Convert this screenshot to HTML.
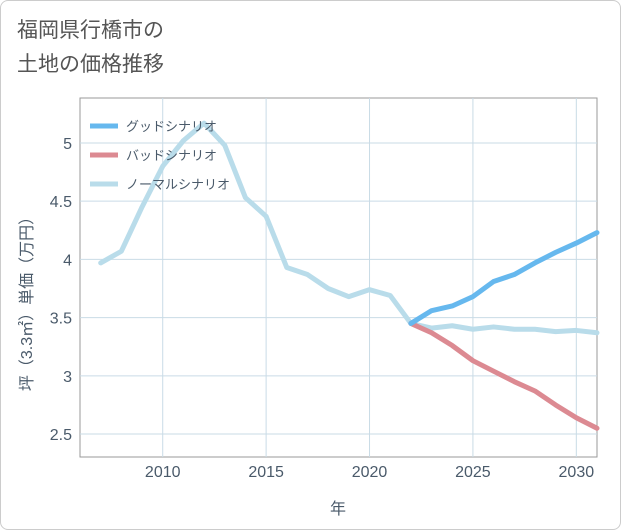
<!DOCTYPE html>
<html><head><meta charset="utf-8"><style>
body{margin:0;background:#fff;font-family:"Liberation Sans","Noto Sans CJK JP",sans-serif}
#card{position:absolute;left:0;top:0;width:619px;height:528px;border:1px solid #ccc;border-radius:8px;background:#fff}
#title{position:absolute;left:17px;top:14px;font-size:21px;line-height:34px;color:#555;font-family:"Liberation Sans","Noto Sans CJK JP",sans-serif}
svg{position:absolute;left:0;top:0}
</style></head><body>
<div id="card"></div>
<div id="title">福岡県行橋市の<br>土地の価格推移</div>
<svg id="chart" width="621" height="530"></svg>
<script>
const years=[2007,2008,2009,2010,2011,2012,2013,2014,2015,2016,2017,2018,2019,2020,2021,2022,2023,2024,2025,2026,2027,2028,2029,2030,2031];
const normal=[3.97,4.07,4.45,4.8,5.02,5.17,4.98,4.53,4.37,3.93,3.87,3.75,3.68,3.74,3.69,3.45,3.41,3.43,3.40,3.42,3.40,3.40,3.38,3.39,3.37];
const futureYears=[2022,2023,2024,2025,2026,2027,2028,2029,2030,2031];
const good=[3.45,3.56,3.60,3.68,3.81,3.87,3.97,4.06,4.14,4.23];
const bad=[3.45,3.37,3.26,3.13,3.04,2.95,2.87,2.75,2.64,2.55];
const xTicks=[2010,2015,2020,2025,2030];
const yTicks=[2.5,3,3.5,4,4.5,5];
const yLabels=["2.5","3","3.5","4","4.5","5"];
const L=80,R=597,T=98,B=457,x0=2006,x1=2031,y0=2.303,y1=5.386;
const X=v=>L+(v-x0)/(x1-x0)*(R-L);
const Y=v=>B-(v-y0)/(y1-y0)*(B-T);
const svg=document.getElementById('chart');
const NS='http://www.w3.org/2000/svg';
function mk(t,a,p){const e=document.createElementNS(NS,t);for(const k in a)e.setAttribute(k,a[k]);(p||svg).appendChild(e);return e;}
const frame=mk('rect',{x:L,y:T,width:R-L,height:B-T,fill:'none',stroke:'#999','stroke-width':1});


xTicks.forEach(t=>{
 const g=mk('line',{x1:X(t),x2:X(t),y1:T,y2:B,stroke:'#c9dbe6','stroke-width':1});
 
 
 const tx=mk('text',{x:X(t),y:477,'text-anchor':'middle','font-size':16,fill:'#4a5a6a'});
 tx.textContent=t;
 
 
});
yTicks.forEach((t,i)=>{
 const g=mk('line',{x1:L,x2:R,y1:Y(t),y2:Y(t),stroke:'#c9dbe6','stroke-width':1});
 
 
 const tx=mk('text',{x:72,y:Y(t)+6,'text-anchor':'end','font-size':16,fill:'#4a5a6a'});
 tx.textContent=yLabels[i];
 
 
});
function line(xs,ys,color,name){
 const p=mk('polyline',{points:xs.map((v,i)=>X(v)+','+Y(ys[i])).join(' '),fill:'none',stroke:color,'stroke-width':5,'stroke-linejoin':'round','stroke-linecap':'round'});
 
 
}
line(years,normal,'#b9dcea','normal-scenario-line');
line(futureYears,bad,'#dc8a92','bad-scenario-line');
line(futureYears,good,'#66b8ee','good-scenario-line');
const leg=[['グッドシナリオ','#66b8ee'],['バッドシナリオ','#dc8a92'],['ノーマルシナリオ','#b9dcea']];
leg.forEach((l,i)=>{
 const y=126+i*29;
 const s=mk('line',{x1:90,x2:118,y1:y,y2:y,stroke:l[1],'stroke-width':5});
 
 
 const tx=mk('text',{x:126,y:y+5,'font-size':13,fill:'#4a5a6a'});
 tx.textContent=l[0];
 
 
});
const xt=mk('text',{x:338,y:514,'text-anchor':'middle','font-size':16,fill:'#4a5a6a'});
xt.textContent='年';


const yt=mk('text',{x:0,y:0,'text-anchor':'middle','font-size':16,fill:'#4a5a6a',transform:'translate(32,300) rotate(-90)'});
yt.textContent='坪（3.3㎡）単価（万円）';


</script>
</body></html>
